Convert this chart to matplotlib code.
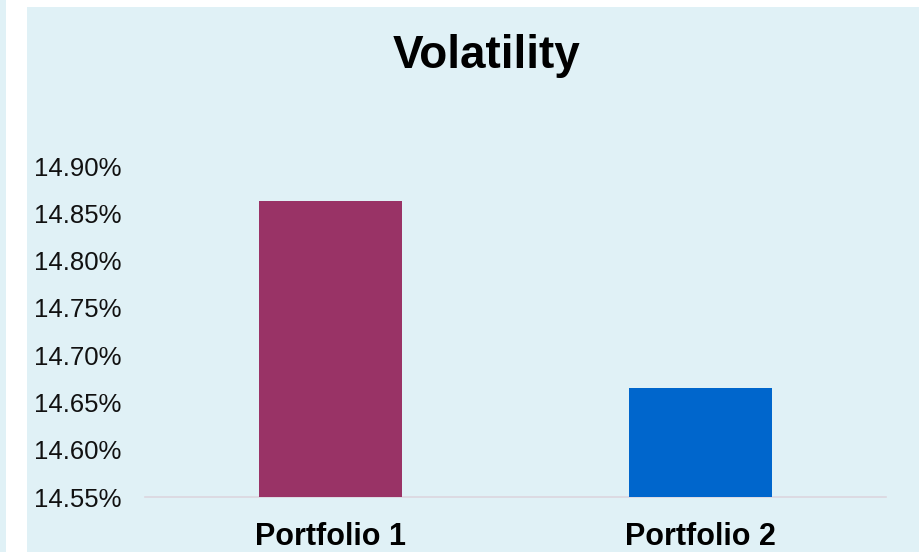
import matplotlib as mpl
mpl.use('Agg')
import matplotlib.pyplot as plt
from matplotlib.patches import Rectangle
from matplotlib.ticker import FuncFormatter

mpl.rc('font', family=['Liberation Sans', 'DejaVu Sans'])

# data
portfolios = ['Portfolio 1', 'Portfolio 2']
volatility = [14.863, 14.665]   # percent
bar_colors = ['#993366', '#0066CC']
y_ticks = [14.55, 14.60, 14.65, 14.70, 14.75, 14.80, 14.85, 14.90]

bg = '#E0F1F6'

fig = plt.figure(figsize=(9.2, 5.52), dpi=100)
fig.patch.set_facecolor('white')

# left strip + main panel
fig.patches.append(Rectangle((0, 0), 6 / 920, 1, transform=fig.transFigure,
                             facecolor=bg, edgecolor='none', zorder=-1))
fig.patches.append(Rectangle((27 / 920, 0), 893 / 920, 545 / 552,
                             transform=fig.transFigure,
                             facecolor=bg, edgecolor='none', zorder=-1))

ax = fig.add_axes([145 / 920, 55 / 552, 741 / 920, 331 / 552])
ax.set_facecolor('none')

x = range(len(portfolios))
ax.bar(x, volatility, width=0.386, color=bar_colors, zorder=2)

ax.set_xlim(-0.5, 1.5)
ax.set_ylim(14.55, 14.90)
ax.set_yticks(y_ticks)
ax.yaxis.set_major_formatter(FuncFormatter(lambda v, p: '%.2f%%' % v))
ax.set_xticks(list(x))
ax.set_xticklabels(portfolios, fontsize=22, fontweight='bold')

ax.tick_params(axis='y', length=0, pad=17, labelsize=18.5, labelcolor='#111111')
ax.tick_params(axis='x', length=0, pad=18)

for s in ['top', 'right', 'left']:
    ax.spines[s].set_visible(False)
ax.spines['bottom'].set_color('#DCD6DE')
ax.spines['bottom'].set_linewidth(1.2)
ax.spines['bottom'].set_zorder(1)

fig.text(487 / 920, 1 - 56 / 552, 'Volatility', ha='center', va='center',
         fontsize=33, fontweight='bold')

plt.savefig('out.png', dpi=100, facecolor=fig.get_facecolor())
